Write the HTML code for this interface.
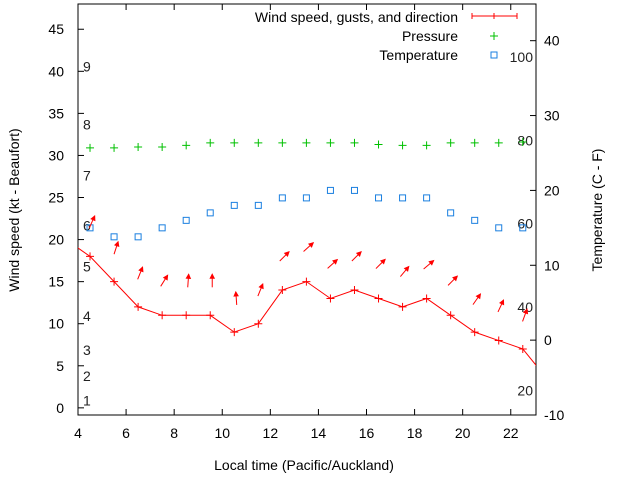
<!DOCTYPE html>
<html><head><meta charset="utf-8"><style>
body{margin:0;background:#fff;}
svg{display:block;font-family:"Liberation Sans",sans-serif;}
</style></head><body>
<svg id="chart" width="640" height="480" viewBox="0 0 640 480" xmlns="http://www.w3.org/2000/svg"></svg>
<script>
const hours=[3.5,4.5,5.5,6.5,7.5,8.5,9.5,10.5,11.5,12.5,13.5,14.5,15.5,16.5,17.5,18.5,19.5,20.5,21.5,22.5,23.5];
const windSpeed=[20,18,15,12,11,11,11,9,10,14,15,13,14,13,12,13,11,9,8,7,3.5];
const obsHours=[4.5,5.5,6.5,7.5,8.5,9.5,10.5,11.5,12.5,13.5,14.5,15.5,16.5,17.5,18.5,19.5,20.5,21.5,22.5];
const obsWind=[18,15,12,11,11,11,9,10,14,15,13,14,13,12,13,11,9,8,7];
const gusts=[22.1,19,16,15.1,15.1,15.1,13,14,18,19.1,17.1,18,17.1,16.2,17,15.1,12.9,12.1,11];
const directions=[24,18,22,32,4,0,-4,22,45,48,48,45,45,40,50,45,35,25,20];
const pressure=[30.9,30.9,31.0,31.0,31.2,31.5,31.5,31.5,31.5,31.5,31.5,31.5,31.3,31.2,31.2,31.5,31.5,31.5,31.6];
const temperature=[15,13.8,13.8,15,16,17,18,18,19,19,20,20,19,19,19,17,16,15,15];
const xTicks=[4,6,8,10,12,14,16,18,20,22];
const yTicks=[0,5,10,15,20,25,30,35,40,45];
const y2Ticks=[-10,0,10,20,30,40];
const beaufort=[[1,0.9],[2,3.8],[3,6.9],[4,10.9],[5,16.8],[6,21.7],[7,27.6],[8,33.7],[9,40.6]];
const fahrenheit=[[20,-6.7],[40,4.4],[60,15.6],[80,26.7],[100,37.8]];

const L=78,R=536,T=4,B=415;
const X0=4,X1=23.05,Y0=-0.85,Y1=48,Z0=-10,Z1=44.9;
const sx=v=>L+(v-X0)/(X1-X0)*(R-L);
const sy=v=>B-(v-Y0)/(Y1-Y0)*(B-T);
const sz=v=>B-(v-Z0)/(Z1-Z0)*(B-T);
const svg=document.getElementById('chart');
const NS='http://www.w3.org/2000/svg';
function mk(tag,attrs,parent){const e=document.createElementNS(NS,tag);for(const k in attrs)e.setAttribute(k,attrs[k]);(parent||svg).appendChild(e);return e;}
function txt(s,x,y,anchor,parent,extra){const e=mk('text',Object.assign({x:x,y:y,'font-size':14,fill:'#000','text-anchor':anchor},extra||{}),parent);e.textContent=s;return e;}

const defs=mk('defs',{});
const cp=mk('clipPath',{id:'clip'},defs);mk('rect',{x:L,y:T,width:R-L,height:B-T},cp);

const frame=mk('rect',{x:L,y:T,width:R-L,height:B-T,fill:'none',stroke:'#000','stroke-width':1});



const xg=mk('g',{});


xTicks.forEach(t=>{const x=sx(t);mk('line',{x1:x,y1:B,x2:x,y2:B-6,stroke:'#000'},xg);mk('line',{x1:x,y1:T,x2:x,y2:T+6,stroke:'#000'},xg);
const lb=txt(String(t),x,438,'middle',xg);});
const yg=mk('g',{});


yTicks.forEach(t=>{const y=sy(t);mk('line',{x1:L,y1:y,x2:L+6,y2:y,stroke:'#000'},yg);
const lb=txt(String(t),64,y+5,'end',yg);});
const zg=mk('g',{});


y2Ticks.forEach(t=>{const y=sz(t);mk('line',{x1:R,y1:y,x2:R-6,y2:y,stroke:'#000'},zg);
const lb=txt(String(t),544,y+5,'start',zg);});

const xt=txt('Local time (Pacific/Auckland)',304,470,'middle');

const yt=txt('Wind speed (kt - Beaufort)',0,0,'middle',svg,{transform:'translate(19,210) rotate(-90)'});

const zt=txt('Temperature (C - F)',0,0,'middle',svg,{transform:'translate(602,210) rotate(-90)'});


beaufort.forEach(b=>{const e=txt(String(b[0]),83,sy(b[1])+5,'start',svg,{fill:'#222'});});
fahrenheit.forEach(f=>{const e=txt(String(f[0]),533,sz(f[1])+5,'end',svg,{fill:'#222'});});

const pg=mk('g',{'clip-path':'url(#clip)'});
const tg=mk('g',{},pg);


obsHours.forEach((h,i)=>{const r=mk('rect',{x:sx(h)-3,y:sz(temperature[i])-3,width:6,height:6,fill:'none',stroke:'#1a7fe0','stroke-width':1},tg);
});
const prg=mk('g',{},pg);


obsHours.forEach((h,i)=>{const x=sx(h),y=sy(pressure[i]);const p=mk('path',{d:`M${x-4},${y}H${x+4}M${x},${y-4}V${y+4}`,stroke:'#00c000','stroke-width':1},prg);
});
const wl=mk('polyline',{points:hours.map((h,i)=>sx(h)+','+sy(windSpeed[i])).join(' '),fill:'none',stroke:'#f00','stroke-width':1},pg);


obsHours.forEach((h,i)=>{const x=sx(h),y=sy(obsWind[i]);const p=mk('path',{d:`M${x-4},${y}H${x+4}M${x},${y-4}V${y+4}`,stroke:'#f00','stroke-width':1},pg);
});
obsHours.forEach((h,i)=>{const cx=sx(h)+2,cy=sy(gusts[i]);const a=directions[i]*Math.PI/180;const len=13;
const dx=Math.sin(a)*len/2,dy=-Math.cos(a)*len/2;const x1=cx-dx,y1=cy-dy,x2=cx+dx,y2=cy+dy;
const ux=Math.sin(a),uy=-Math.cos(a);const hx=x2-ux*4,hy=y2-uy*4;const px=-uy*2,py=ux*2;
const g=mk('g',{},pg);


mk('line',{x1:x1,y1:y1,x2:x2,y2:y2,stroke:'#f00','stroke-width':1},g);
mk('path',{d:`M${x2},${y2}L${hx+px},${hy+py}L${hx-px},${hy-py}Z`,fill:'#f00',stroke:'#f00','stroke-width':1},g);});

const lg=mk('g',{});


const l1=txt('Wind speed, gusts, and direction',458,22,'end',lg);
mk('path',{d:'M472,16H517M472,13V19M517,13V19M494,13V19',stroke:'#f00','stroke-width':1},lg);
const l2=txt('Pressure',458,41,'end',lg);
mk('path',{d:'M490,36H498M494,32V40',stroke:'#00c000','stroke-width':1},lg);
const l3=txt('Temperature',458,60,'end',lg);
mk('rect',{x:491,y:52,width:6,height:6,fill:'none',stroke:'#1a7fe0'},lg);
</script>
</body></html>
